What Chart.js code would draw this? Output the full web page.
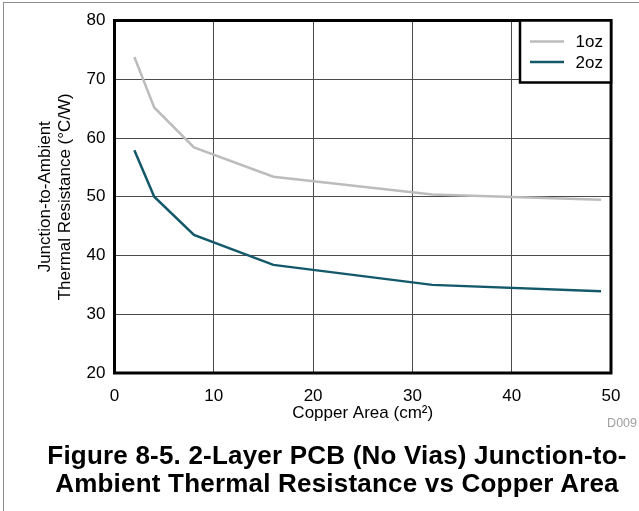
<!DOCTYPE html>
<html>
<head>
<meta charset="utf-8">
<script src="https://cdn.jsdelivr.net/npm/chart.js@4/dist/chart.umd.min.js"></script>
<style>
  html, body { margin: 0; padding: 0; background: #fff; }
  #wrap { position: relative; width: 639px; height: 511px; overflow: hidden; }
  #frame { position: absolute; left: 3px; top: 2px; width: 640px; height: 510px; border-left: 1.5px solid #8c8c8c; border-top: 1.5px solid #8c8c8c; box-sizing: border-box; }
  canvas { position: absolute; left: 0; top: 0; }
  #caption { position: absolute; left: 37px; width: 600px; top: 441px; text-align: center;
    font-family: "Liberation Sans", Arial, sans-serif; font-weight: bold; font-size: 26px; line-height: 28.3px;
    letter-spacing: 0.2px; color: #000; }
  #code { position: absolute; right: 2px; top: 416px; font-family: "Liberation Sans", Arial, sans-serif;
    font-size: 12.5px; color: #a0a0a0; }
</style>
</head>
<body>
<div id="wrap">
  <div id="frame"></div>
  <canvas id="c" width="639" height="511"></canvas>
  <div id="code">D009</div>
  <div id="caption">Figure 8-5. 2-Layer PCB (No Vias) Junction-to-<br>Ambient Thermal Resistance vs Copper Area</div>
</div>
<script>
// ---- data ----
const copperArea = [2, 4, 8, 16, 32, 49];
const series1oz = [73.8, 65.2, 58.4, 53.4, 50.4, 49.5];
const series2oz = [57.9, 50.0, 43.5, 38.4, 35.0, 33.9];
const seriesLabels = ['1oz', '2oz'];
const xTitle = 'Copper Area (cm\u00B2)';
const yTitle = ['Junction-to-Ambient', 'Thermal Resistance (\u00B0C/W)'];

const FONT = '"Liberation Sans", Arial, sans-serif';
const colors = ['#bcbcbc', '#14596a'];

const toPts = (ys) => copperArea.map((x, i) => ({x: x, y: ys[i]}));

const framePlugin = {
  id: 'framePlugin',
  afterDraw(chart) {
    const {ctx, chartArea: a} = chart;
    ctx.save();
    ctx.strokeStyle = '#000';
    ctx.lineWidth = 3;
    ctx.strokeRect(a.left, a.top, a.right - a.left, a.bottom - a.top);
    // legend box inside plot, top-right
    const bw = 91, bh = 62;
    const bx = a.right - bw, by = a.top;
    ctx.fillStyle = '#fff';
    ctx.fillRect(bx, by, bw, bh);
    ctx.lineWidth = 2.5;
    ctx.strokeRect(bx, by, bw, bh);
    ctx.font = '17px ' + FONT;
    ctx.textAlign = 'right';
    ctx.textBaseline = 'middle';
    chart.data.datasets.forEach((ds, i) => {
      const y = by + 21 + i * 20.5;
      ctx.strokeStyle = ds.borderColor;
      ctx.lineWidth = 2.5;
      ctx.beginPath();
      ctx.moveTo(bx + 10, y);
      ctx.lineTo(bx + 44, y);
      ctx.stroke();
      ctx.fillStyle = '#000';
      ctx.fillText(ds.label, bx + bw - 8, y + 1);
    });
    ctx.restore();
  }
};

new Chart(document.getElementById('c'), {
  type: 'line',
  data: {
    datasets: [
      { label: seriesLabels[0], data: toPts(series1oz), borderColor: colors[0], borderWidth: 2.5, pointRadius: 0, fill: false, tension: 0 },
      { label: seriesLabels[1], data: toPts(series2oz), borderColor: colors[1], borderWidth: 2.5, pointRadius: 0, fill: false, tension: 0 }
    ]
  },
  options: {
    responsive: false,
    animation: false,
    devicePixelRatio: 1,
    layout: { padding: { left: 0, top: 20.5, right: 28, bottom: 87 } },
    plugins: { legend: { display: false }, tooltip: { enabled: false } },
    scales: {
      x: {
        type: 'linear', min: 0, max: 50,
        ticks: { stepSize: 10, color: '#000', font: { family: FONT, size: 17 }, padding: 13, maxRotation: 0 },
        grid: { color: '#4a4a4a', lineWidth: 1, drawTicks: false },
        border: { display: false },
        title: { display: true, text: xTitle, color: '#000', font: { family: FONT, size: 17 }, padding: 0 },
        afterFit(s) { s.height = 51; }
      },
      y: {
        min: 20, max: 80,
        ticks: { stepSize: 10, color: '#000', font: { family: FONT, size: 17 }, padding: 9 },
        grid: { color: '#4a4a4a', lineWidth: 1, drawTicks: false },
        border: { display: false },
        title: { display: true, text: yTitle, color: '#000', font: { family: FONT, size: 17 }, padding: { top: 35, bottom: 0 } },
        afterFit(s) { s.width = 114.5; }
      }
    }
  },
  plugins: [framePlugin]
});
</script>
</body>
</html>
